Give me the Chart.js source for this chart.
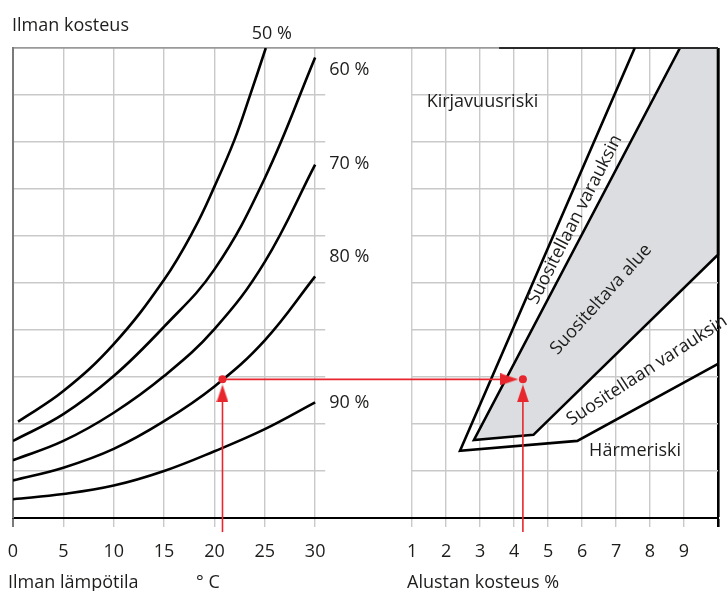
<!DOCTYPE html>
<html>
<head>
<meta charset="utf-8">
<script src="https://cdn.jsdelivr.net/npm/chart.js@4"></script>
<style>
  html, body { margin: 0; padding: 0; background: #fff; }
  #wrap { width: 728px; height: 591px; position: relative; }
</style>
</head>
<body>
<div id="wrap"><canvas id="c" width="728" height="591"></canvas></div>
<script>
// --- left panel: air temperature vs air moisture, one curve per RH level
const tempTicks = [0, 5, 10, 15, 20, 25, 30];
const temps = [0, 5, 10, 15, 20, 25, 30];
const rh90 = [0.40, 0.51, 0.69, 1.00, 1.42, 1.89, 2.46];
const rh80 = [0.80, 1.07, 1.47, 2.06, 2.80, 3.78, 5.14];
const rh70 = [1.23, 1.64, 2.24, 3.02, 4.02, 5.45, 7.52];
const rh60 = [1.64, 2.21, 3.02, 4.07, 5.29, 7.23, 9.80];
const rh50Temps = [0.5, 5, 10, 15, 18, 20, 22, 23.5, 25.1];
const rh50 = [2.05, 2.70, 3.70, 5.07, 6.15, 7.05, 8.05, 8.97, 10.0];

// --- right panel: substrate moisture % zones
const moistTicks = [1, 2, 3, 4, 5, 6, 7, 8, 9, 10];
const cautionM = [7.55, 2.41, 5.86, 10];
const cautionY = [10, 1.43, 1.64, 3.28];
const goodM = [8.88, 2.82, 4.57, 10, 10];
const goodY = [10, 1.66, 1.77, 5.6, 10];
const frameM = [3.56, 10];
const frameY = [10, 10];

// --- reading example (red)
const readTemp = 20.8;
const readLevel = 2.95;
const readMoist = 4.26;
const arrowLevel = 2.65;
const arrowMoist = 3.86;
const lineBottom = -0.3;

// both panels share one x scale: 0..30 is temperature, moisture is shifted right
const M0 = 36.25, MK = 3.375;
const mx = m => M0 + MK * m;
const gapFrom = 31;

const FONT = "'Open Sans', 'Noto Sans', sans-serif";
const FSIZE = 18;
const INK = '#1d1d1b';
const RED = '#e8262d';
const GRID = '#c9c9c9';

const tickVals = tempTicks.concat(moistTicks.map(mx));
const tickLabels = tempTicks.map(String).concat(moistTicks.map(m => m === 10 ? '' : String(m)));

const pts = (xs, ys) => xs.map((x, i) => ({ x: x, y: ys[i] }));

function arrowHead(color) {
  const c = document.createElement('canvas');
  c.width = 12; c.height = 18;
  const g = c.getContext('2d');
  g.fillStyle = color;
  g.beginPath(); g.moveTo(6, 0); g.lineTo(12, 18); g.lineTo(0, 18); g.closePath(); g.fill();
  return c;
}
const arrow = arrowHead(RED);

const curve = (xs, ys) => ({
  data: pts(xs, ys), showLine: true, borderColor: '#000', borderWidth: 2.6,
  pointRadius: 0, tension: 0.4, order: 2
});

// texts in data coordinates
const plotLabels = [
  { t: '50 %', x: 25.7, y: 10.3, align: 'center' },
  { t: '60 %', x: 31.4, y: 9.53, align: 'left' },
  { t: '70 %', x: 31.4, y: 7.54, align: 'left' },
  { t: '80 %', x: 31.4, y: 5.56, align: 'left' },
  { t: '90 %', x: 31.4, y: 2.44, align: 'left' },
  { t: 'Kirjavuusriski', x: mx(3.07), y: 8.85, align: 'center' },
  { t: 'Härmeriski', x: mx(7.56), y: 1.42, align: 'center' },
  { t: 'Suositellaan varauksin', x: mx(5.79), y: 6.35, align: 'center', rot: -63 },
  { t: 'Suositeltava alue', x: mx(6.56), y: 4.65, align: 'center', rot: -48 },
  { t: 'Suositellaan varauksin', x: mx(7.91), y: 3.14, align: 'center', rot: -33 }
];
// axis titles in page pixels
const axisTitles = [
  { t: 'Ilman kosteus', x: 12, y: 31 },
  { t: 'Ilman lämpötila', x: 8, y: 588 },
  { t: '° C', x: 196, y: 588 },
  { t: 'Alustan kosteus %', x: 407, y: 588 }
];

const gapMask = {
  id: 'gapMask',
  beforeDatasetsDraw(chart) {
    const { ctx, chartArea, scales } = chart;
    const l = scales.x.getPixelForValue(gapFrom);
    const r = scales.x.getPixelForValue(mx(1));
    ctx.save();
    ctx.fillStyle = '#fff';
    ctx.fillRect(l, chartArea.top + 1.5, r - l - 1, chartArea.bottom - chartArea.top - 3);
    ctx.restore();
  }
};

const texts = {
  id: 'texts',
  afterDatasetsDraw(chart) {
    const { ctx, scales } = chart;
    ctx.save();
    ctx.fillStyle = INK;
    ctx.font = FSIZE + 'px ' + FONT;
    ctx.textBaseline = 'middle';
    plotLabels.forEach(l => {
      ctx.save();
      ctx.translate(scales.x.getPixelForValue(l.x), scales.y.getPixelForValue(l.y));
      if (l.rot) ctx.rotate(l.rot * Math.PI / 180);
      ctx.textAlign = l.align;
      ctx.fillText(l.t, 0, 0);
      ctx.restore();
    });
    ctx.textBaseline = 'alphabetic';
    ctx.textAlign = 'left';
    axisTitles.forEach(a => ctx.fillText(a.t, a.x, a.y));
    ctx.restore();
  }
};

new Chart(document.getElementById('c'), {
  type: 'scatter',
  data: {
    datasets: [
      // reading example
      { data: [{ x: readTemp, y: readLevel }, { x: mx(readMoist), y: readLevel }],
        pointRadius: 4, pointBackgroundColor: RED, pointBorderWidth: 0, order: 0 },
      { data: [{ x: readTemp, y: arrowLevel }, { x: mx(readMoist), y: arrowLevel }],
        pointStyle: arrow, pointRadius: 9, pointRotation: 0, order: 0 },
      { data: [{ x: mx(arrowMoist), y: readLevel }],
        pointStyle: arrow, pointRadius: 9, pointRotation: 90, order: 0 },
      { data: [{ x: readTemp, y: lineBottom }, { x: readTemp, y: arrowLevel }],
        showLine: true, borderColor: RED, borderWidth: 1.6, pointRadius: 0, clip: false, order: 1 },
      { data: [{ x: mx(readMoist), y: lineBottom }, { x: mx(readMoist), y: arrowLevel }],
        showLine: true, borderColor: RED, borderWidth: 1.6, pointRadius: 0, clip: false, order: 1 },
      { data: [{ x: readTemp, y: readLevel }, { x: mx(arrowMoist), y: readLevel }],
        showLine: true, borderColor: RED, borderWidth: 1.6, pointRadius: 0, order: 1 },
      // RH curves
      curve(rh50Temps, rh50),
      curve(temps, rh60),
      curve(temps, rh70),
      curve(temps, rh80),
      curve(temps, rh90),
      // moisture zones
      { data: pts(cautionM.map(mx), cautionY), showLine: true, borderColor: '#000',
        borderWidth: 2.6, pointRadius: 0, order: 3, clip: 2 },
      { data: pts(frameM.map(mx), frameY), showLine: true, borderColor: '#2a2a2a',
        borderWidth: 1.8, pointRadius: 0, order: 3, clip: 2 },
      { data: pts(goodM.map(mx), goodY), showLine: true, borderColor: '#000',
        backgroundColor: '#dcdde0', fill: 'shape', borderWidth: 2.6, pointRadius: 0, order: 4, clip: 2 }
    ]
  },
  options: {
    responsive: false,
    animation: false,
    layout: { padding: { left: 13, right: 10, top: 48, bottom: 15 } },
    plugins: { legend: { display: false }, tooltip: { enabled: false } },
    scales: {
      x: {
        type: 'linear', min: 0, max: 70,
        afterBuildTicks: s => { s.ticks = tickVals.map(v => ({ value: v })); },
        ticks: {
          autoSkip: false, maxRotation: 0, padding: 3, color: INK,
          font: { family: FONT, size: FSIZE, lineHeight: 43 / 18 },
          callback: (v, i) => tickLabels[i]
        },
        grid: {
          tickLength: 9,
          color: c => c.tick && c.tick.value === 70 ? '#000' : (c.tick && c.tick.value === 0 ? '#7a7a7a' : GRID),
          lineWidth: c => c.tick && c.tick.value === 70 ? 2.6 : (c.tick && c.tick.value === 0 ? 2 : 1.4)
        },
        border: { color: '#000', width: 2 }
      },
      y: {
        min: 0, max: 10,
        ticks: { stepSize: 1, display: false },
        grid: {
          drawTicks: false,
          color: c => c.tick && c.tick.value === 10 ? '#9a9a9a' : GRID,
          lineWidth: c => c.tick && c.tick.value === 10 ? 1.8 : 1.4
        },
        border: { color: '#7a7a7a', width: 2 }
      }
    }
  },
  plugins: [gapMask, texts]
});
</script>
</body>
</html>
